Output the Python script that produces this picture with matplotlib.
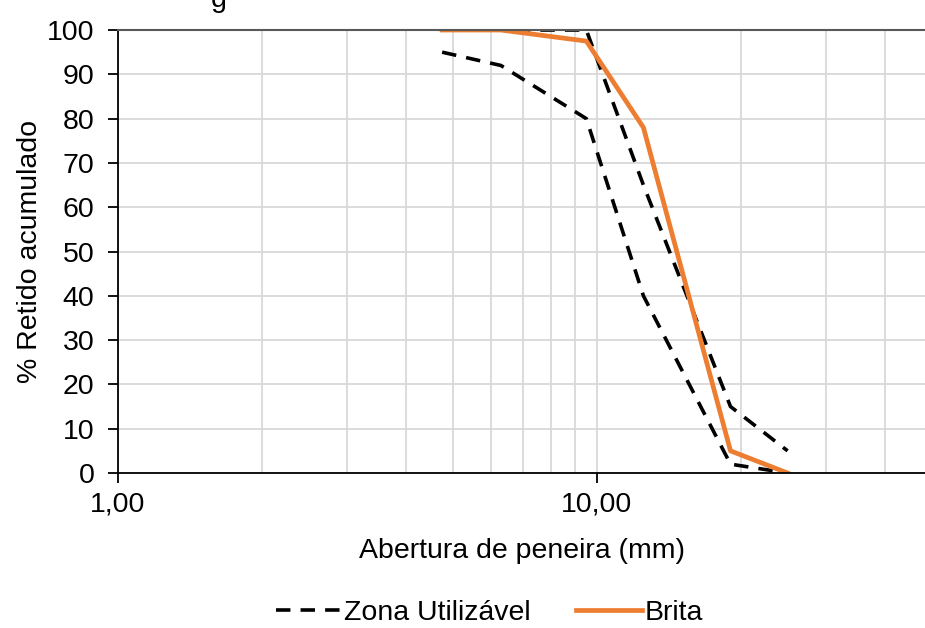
import matplotlib.pyplot as plt
from matplotlib.ticker import FixedLocator, FuncFormatter, NullFormatter

plt.rcParams['font.family'] = ['Liberation Sans', 'DejaVu Sans']

# peneiras (mm) e % retido acumulado
peneiras = [4.75, 6.3, 9.5, 12.5, 19.0, 25.0]
zona_inf = [95, 92, 80, 40, 2, 0]
zona_sup = [100, 100, 100, 65, 15, 5]
brita = [100, 100, 97.5, 78, 5, 0]

fs = 20.5
fig = plt.figure(figsize=(9.25, 6.28), dpi=100)
ax = fig.add_axes([0.1276, 0.2468, 0.8724, 0.7054])

ax.plot(peneiras, zona_inf, color='black', lw=2.6, ls=(0, (4, 2.8)), label='Zona Utilizável')
ax.plot(peneiras, zona_sup, color='black', lw=2.6, ls=(0, (4, 2.8)))
ax.plot(peneiras, brita, color='#ED7D31', lw=3.4, label='Brita')

ax.set_xscale('log')
ax.set_xlim(1, 48.4)
ax.set_ylim(0, 100)
ax.set_yticks(range(0, 101, 10))
ax.xaxis.set_major_locator(FixedLocator([1, 10]))
ax.xaxis.set_minor_locator(FixedLocator([2, 3, 4, 5, 6, 7, 8, 9, 20, 30, 40]))
ax.xaxis.set_major_formatter(FuncFormatter(lambda v, p: ('%.2f' % v).replace('.', ',')))
ax.xaxis.set_minor_formatter(NullFormatter())

ax.grid(True, which='both', axis='x', color='#d9d9d9', lw=1.3)
ax.grid(True, which='major', axis='y', color='#d9d9d9', lw=1.3)
ax.set_axisbelow(True)

ax.spines['right'].set_visible(False)
ax.spines['top'].set_color('#595959')
ax.spines['top'].set_linewidth(1.5)
ax.spines['left'].set_linewidth(1.3)
ax.spines['bottom'].set_linewidth(1.3)

ax.tick_params(axis='both', which='major', labelsize=fs, length=7, width=1.3, direction='out')
ax.tick_params(axis='x', which='minor', length=0)
ax.tick_params(axis='x', pad=6)
ax.tick_params(axis='y', pad=10)

ax.set_xlabel('Abertura de peneira (mm)', fontsize=fs, labelpad=15)
ax.set_ylabel('% Retido acumulado', fontsize=fs, labelpad=3)

# resto do título cortado no topo
fig.text(0.236, 1.0, 'g', fontsize=fs, ha='center', va='center')

fig.legend(loc='center', bbox_to_anchor=(0.529, 0.024), ncol=2, frameon=False,
           fontsize=fs, handlelength=2.3, handletextpad=0.1, columnspacing=1.6)

fig.savefig('out.png', dpi=100)
